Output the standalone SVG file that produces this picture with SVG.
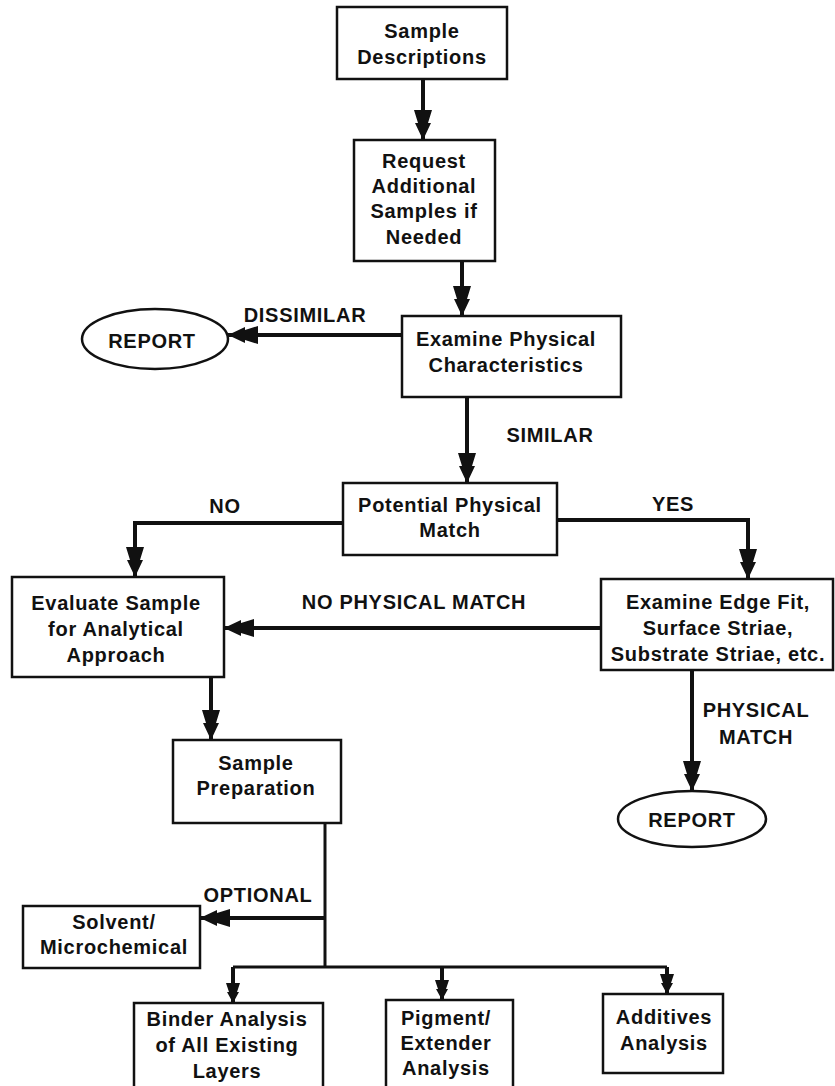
<svg xmlns="http://www.w3.org/2000/svg" width="835" height="1086" viewBox="0 0 835 1086">
<defs>
<style>
.box{fill:#fff;stroke:#111;stroke-width:2.5}
.t{font-family:"Liberation Sans",Arial,sans-serif;font-weight:bold;font-size:20px;letter-spacing:0.7px;fill:#111;text-anchor:middle}
.c{fill:none;stroke:#111;stroke-width:4}
.c2{fill:none;stroke:#111;stroke-width:3}
</style>
<marker id="ah" viewBox="0 0 30 18" refX="30" refY="9" markerWidth="30" markerHeight="18" markerUnits="userSpaceOnUse" orient="auto">
<path d="M0,0 L13,4 L13,1 L30,9 L13,17 L13,14 L0,18 Z" fill="#111"/>
</marker>
<marker id="as" viewBox="0 0 20 14" refX="20" refY="7" markerWidth="20" markerHeight="14" markerUnits="userSpaceOnUse" orient="auto">
<path d="M0,0 L9,3 L9,1 L20,7 L9,13 L9,11 L0,14 Z" fill="#111"/>
</marker>
</defs>
<rect width="835" height="1086" fill="#fff"/>
<g id="connectors">
<path class="c" d="M423,79 V140" marker-end="url(#ah)"/>
<path class="c" d="M462,261 V316" marker-end="url(#ah)"/>
<path class="c" d="M402,335 H228" marker-end="url(#ah)"/>
<path class="c" d="M467,397 V483" marker-end="url(#ah)"/>
<path class="c" d="M343,523 H135 V577" marker-end="url(#ah)"/>
<path class="c" d="M557,520 H748 V579" marker-end="url(#ah)"/>
<path class="c" d="M601,628 H224" marker-end="url(#ah)"/>
<path class="c" d="M692,670 V791" marker-end="url(#ah)"/>
<path class="c" d="M211,677 V740" marker-end="url(#ah)"/>
<path class="c2" d="M325,823 V967"/>
<path class="c" d="M325,918 H200" marker-end="url(#ah)"/>
<path class="c2" d="M233,967 H667"/>
<path class="c" d="M233,967 V1003" marker-end="url(#as)"/>
<path class="c" d="M442,967 V1000" marker-end="url(#as)"/>
<path class="c" d="M667,967 V994" marker-end="url(#as)"/>
<text class="t" x="305" y="322">DISSIMILAR</text>
<text class="t" x="550" y="442">SIMILAR</text>
<text class="t" x="225" y="513">NO</text>
<text class="t" x="673" y="511">YES</text>
<text class="t" x="414" y="609">NO PHYSICAL MATCH</text>
<text class="t" x="756" y="717">PHYSICAL</text>
<text class="t" x="756" y="744">MATCH</text>
<text class="t" x="258" y="902">OPTIONAL</text>
</g>
<g id="n1"><rect class="box" x="337" y="7" width="170" height="72"/><text class="t" x="422" y="38">Sample</text><text class="t" x="422" y="64">Descriptions</text></g>
<g id="n2"><rect class="box" x="354" y="140" width="141" height="121"/><text class="t" x="424" y="168">Request</text><text class="t" x="424" y="193">Additional</text><text class="t" x="424" y="218">Samples if</text><text class="t" x="424" y="244">Needed</text></g>
<g id="n3"><rect class="box" x="402" y="316" width="219" height="81"/><text class="t" x="506" y="346">Examine Physical</text><text class="t" x="506" y="372">Characteristics</text></g>
<g id="r1"><ellipse class="box" cx="155" cy="339" rx="73" ry="30"/><text class="t" x="152" y="348">REPORT</text></g>
<g id="n4"><rect class="box" x="343" y="483" width="214" height="72"/><text class="t" x="450" y="512">Potential Physical</text><text class="t" x="450" y="537">Match</text></g>
<g id="n5"><rect class="box" x="12" y="577" width="212" height="100"/><text class="t" x="116" y="610">Evaluate Sample</text><text class="t" x="116" y="636">for Analytical</text><text class="t" x="116" y="662">Approach</text></g>
<g id="n6"><rect class="box" x="601" y="579" width="232" height="91"/><text class="t" x="718" y="609">Examine Edge Fit,</text><text class="t" x="718" y="635">Surface Striae,</text><text class="t" x="718" y="661">Substrate Striae, etc.</text></g>
<g id="r2"><ellipse class="box" cx="692" cy="819" rx="74" ry="28"/><text class="t" x="692" y="827">REPORT</text></g>
<g id="n7"><rect class="box" x="173" y="740" width="168" height="83"/><text class="t" x="256" y="770">Sample</text><text class="t" x="256" y="795">Preparation</text></g>
<g id="n8"><rect class="box" x="23" y="906" width="177" height="62"/><text class="t" x="114" y="929">Solvent/</text><text class="t" x="114" y="954">Microchemical</text></g>
<g id="n9"><rect class="box" x="134" y="1003" width="189" height="85"/><text class="t" x="227" y="1026">Binder Analysis</text><text class="t" x="227" y="1052">of All Existing</text><text class="t" x="227" y="1078">Layers</text></g>
<g id="n10"><rect class="box" x="386" y="1000" width="127" height="88"/><text class="t" x="446" y="1025">Pigment/</text><text class="t" x="446" y="1050">Extender</text><text class="t" x="446" y="1075">Analysis</text></g>
<g id="n11"><rect class="box" x="603" y="994" width="120" height="79"/><text class="t" x="664" y="1024">Additives</text><text class="t" x="664" y="1050">Analysis</text></g>
</svg>
